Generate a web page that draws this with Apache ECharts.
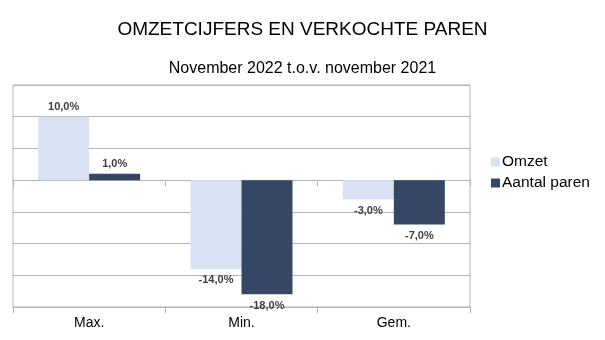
<!DOCTYPE html>
<html>
<head>
<meta charset="utf-8">
<script src="https://cdn.jsdelivr.net/npm/echarts@6/dist/echarts.min.js"></script>
<style>html,body{margin:0;padding:0;background:#fff}#c{width:605px;height:340px}</style>
</head>
<body>
<div id="c"></div>
<script>
var categories = ['Max.', 'Min.', 'Gem.'];
var omzet = [10, -14, -3];
var aantalParen = [1, -18, -7];
var yTicks = [-20, -15, -10, -5, 0, 5, 10, 15];

function fmt(p) { return p.value.toFixed(1).replace('.', ',') + '%'; }
function lbl(v) {
  return { show: true, position: v >= 0 ? 'top' : 'bottom', distance: v >= 0 ? 4 : 6,
    formatter: fmt, color: '#404040', fontSize: 11, fontWeight: 'bold', fontFamily: 'Liberation Sans, Arial, sans-serif' };
}
function mk(arr) { return arr.map(function (v) { return { value: v, label: lbl(v) }; }); }

var chart = echarts.init(document.getElementById('c'));
chart.setOption({
  animation: false,
  textStyle: { fontFamily: 'Liberation Sans, Arial, sans-serif' },
  title: [
    { text: 'OMZETCIJFERS EN VERKOCHTE PAREN', left: 'center', top: 15,
      textStyle: { fontSize: 19, fontWeight: 'normal', color: '#000' } },
    { text: 'November 2022 t.o.v. november 2021', left: 'center', top: 56,
      textStyle: { fontSize: 16, fontWeight: 'normal', color: '#000' } }
  ],
  legend: {
    orient: 'vertical', left: 486, top: 149, itemWidth: 9, itemHeight: 9, itemGap: 5,
    icon: 'rect',
    textStyle: { fontSize: 15.5, color: '#000', padding: [0, 0, 0, -3] },
    data: ['Omzet', 'Aantal paren']
  },
  grid: { left: 13, right: 135, top: 85, bottom: 33, show: true, borderColor: '#b3b3b3', borderWidth: 1 },
  xAxis: [
    { type: 'category', data: categories, axisLine: { onZero: true, lineStyle: { color: '#b3b3b3' } },
      axisTick: { show: true, length: 6, lineStyle: { color: '#b3b3b3' } }, axisLabel: { show: false } },
    { type: 'category', data: categories, position: 'bottom', axisLine: { onZero: false, lineStyle: { color: '#b3b3b3' } },
      axisTick: { show: true, length: 6, lineStyle: { color: '#b3b3b3' } },
      axisLabel: { show: true, fontSize: 14, color: '#000', margin: 9 } }
  ],
  yAxis: {
    type: 'value', min: yTicks[0], max: yTicks[yTicks.length - 1], interval: 5,
    axisLabel: { show: false }, axisLine: { show: false }, axisTick: { show: false },
    splitLine: { lineStyle: { color: '#b3b3b3' } }
  },
  series: [
    { name: 'Omzet', type: 'bar', xAxisIndex: 0, data: mk(omzet), barWidth: 51, barGap: '0%',
      itemStyle: { color: '#d9e2f3' } },
    { name: 'Aantal paren', type: 'bar', xAxisIndex: 0, data: mk(aantalParen), barWidth: 51, barGap: '0%',
      itemStyle: { color: '#354764' } }
  ]
});
</script>
</body>
</html>
